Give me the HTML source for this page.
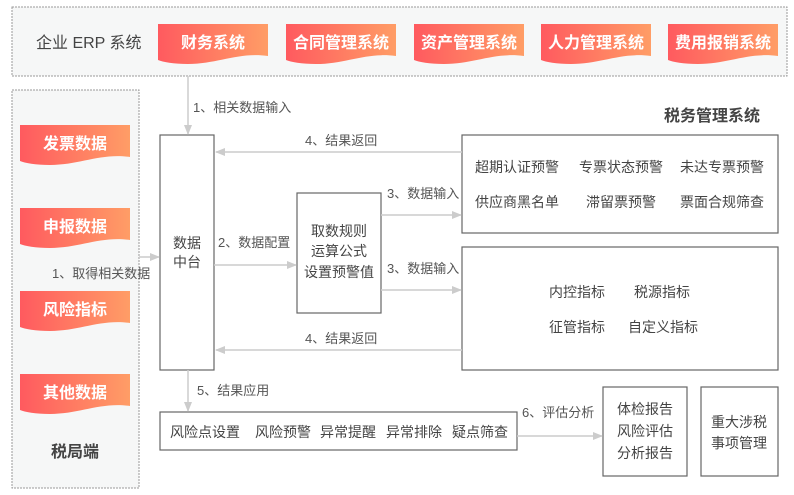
<!DOCTYPE html>
<html><head><meta charset="utf-8"><style>
body{margin:0;background:#fff}
svg{display:block}
text{font-family:"Liberation Sans","Noto Sans CJK SC",sans-serif;fill:#444}
.b{font-weight:bold;fill:#fff;font-size:16px}
.l{font-size:13px;fill:#555}
.t{font-size:14px;fill:#444}
</style></head><body>
<svg width="794" height="495" viewBox="0 0 794 495" xmlns="http://www.w3.org/2000/svg">
<defs>
<linearGradient id="g" x1="0" x2="1"><stop offset="0" stop-color="#ff5a5f"/><stop offset="1" stop-color="#ff9d66"/></linearGradient>
<marker id="a" markerWidth="10" markerHeight="10" refX="9" refY="5" orient="auto" markerUnits="userSpaceOnUse"><path d="M0,1 L10,5 L0,9 z" fill="#ccc"/></marker>
<symbol id="ban" viewBox="0 0 110 40" preserveAspectRatio="none"><path d="M0,0 H110 V32 C80,28 60,40 30,40 C15,40 5,38 0,36 Z" fill="url(#g)"/></symbol>
</defs>
<rect x="12" y="7" width="775" height="69" fill="#f6f7f7" stroke="#999" stroke-dasharray="2,1"/>
<text x="36" y="48" font-size="16" fill="#444">企业 ERP 系统</text>
<use href="#ban" x="158" y="24" width="110" height="40"/>
<use href="#ban" x="286" y="24" width="110" height="40"/>
<use href="#ban" x="414" y="24" width="110" height="40"/>
<use href="#ban" x="541" y="24" width="110" height="40"/>
<use href="#ban" x="668" y="24" width="110" height="40"/>
<text class="b" x="213" y="48" text-anchor="middle">财务系统</text>
<text class="b" x="341" y="48" text-anchor="middle">合同管理系统</text>
<text class="b" x="469" y="48" text-anchor="middle">资产管理系统</text>
<text class="b" x="596" y="48" text-anchor="middle">人力管理系统</text>
<text class="b" x="723" y="48" text-anchor="middle">费用报销系统</text>

<rect x="12" y="90" width="127" height="398" fill="#f6f7f7" stroke="#999" stroke-dasharray="2,1"/>
<use href="#ban" x="20" y="125" width="110" height="40"/>
<use href="#ban" x="20" y="208" width="110" height="40"/>
<use href="#ban" x="20" y="291" width="110" height="40"/>
<use href="#ban" x="20" y="374" width="110" height="40"/>
<text class="b" x="75" y="149" text-anchor="middle">发票数据</text>
<text class="b" x="75" y="232" text-anchor="middle">申报数据</text>
<text class="b" x="75" y="315" text-anchor="middle">风险指标</text>
<text class="b" x="75" y="398" text-anchor="middle">其他数据</text>
<text x="75" y="457" text-anchor="middle" font-size="16" font-weight="bold" fill="#444">税局端</text>

<g fill="#fff" stroke="#666" stroke-width="1.2">
<rect x="160" y="135" width="54" height="235"/>
<rect x="297" y="193" width="84" height="120"/>
<rect x="462" y="135" width="316" height="98"/>
<rect x="462" y="247" width="316" height="123"/>
<rect x="160" y="412" width="357" height="38"/>
<rect x="603" y="387" width="84" height="89"/>
<rect x="701" y="387" width="77" height="89"/>
</g>
<text x="187" y="248" text-anchor="middle" font-size="14">数据</text>
<text x="187" y="267" text-anchor="middle" font-size="14">中台</text>
<text class="t" x="339" y="236" text-anchor="middle">取数规则</text>
<text class="t" x="339" y="256" text-anchor="middle">运算公式</text>
<text class="t" x="339" y="277" text-anchor="middle">设置预警值</text>
<text x="760" y="121" text-anchor="end" font-size="16" font-weight="bold" fill="#444">税务管理系统</text>
<text class="t" x="475" y="172">超期认证预警</text>
<text class="t" x="579" y="172">专票状态预警</text>
<text class="t" x="680" y="172">未达专票预警</text>
<text class="t" x="475" y="207">供应商黑名单</text>
<text class="t" x="586" y="207">滞留票预警</text>
<text class="t" x="680" y="207">票面合规筛查</text>
<text class="t" x="549" y="297">内控指标</text>
<text class="t" x="634" y="297">税源指标</text>
<text class="t" x="549" y="332">征管指标</text>
<text class="t" x="628" y="332">自定义指标</text>
<text class="t" x="170" y="437">风险点设置</text>
<text class="t" x="255" y="437">风险预警</text>
<text class="t" x="320" y="437">异常提醒</text>
<text class="t" x="386" y="437">异常排除</text>
<text class="t" x="452" y="437">疑点筛查</text>
<text class="t" x="645" y="414" text-anchor="middle">体检报告</text>
<text class="t" x="645" y="436" text-anchor="middle">风险评估</text>
<text class="t" x="645" y="458" text-anchor="middle">分析报告</text>
<text class="t" x="739" y="427" text-anchor="middle">重大涉税</text>
<text class="t" x="739" y="448" text-anchor="middle">事项管理</text>

<g stroke="#ccc" stroke-width="1.5" fill="none" marker-end="url(#a)">
<line x1="188" y1="76" x2="188" y2="134"/>
<line x1="462" y1="152" x2="216" y2="152"/>
<line x1="381" y1="215" x2="461" y2="215"/>
<line x1="214" y1="265" x2="296" y2="265"/>
<line x1="381" y1="290" x2="461" y2="290"/>
<line x1="462" y1="350" x2="216" y2="350"/>
<line x1="139" y1="257" x2="159" y2="257"/>
<line x1="188" y1="370" x2="188" y2="411"/>
<line x1="517" y1="436" x2="602" y2="436"/>
</g>
<text class="l" x="193" y="112">1、相关数据输入</text>
<text class="l" x="305" y="145">4、结果返回</text>
<text class="l" x="387" y="198">3、数据输入</text>
<text class="l" x="218" y="247">2、数据配置</text>
<text class="l" x="387" y="273">3、数据输入</text>
<text class="l" x="305" y="343">4、结果返回</text>
<text class="l" x="52" y="278">1、取得相关数据</text>
<text class="l" x="197" y="395">5、结果应用</text>
<text class="l" x="522" y="417">6、评估分析</text>
</svg>
</body></html>
